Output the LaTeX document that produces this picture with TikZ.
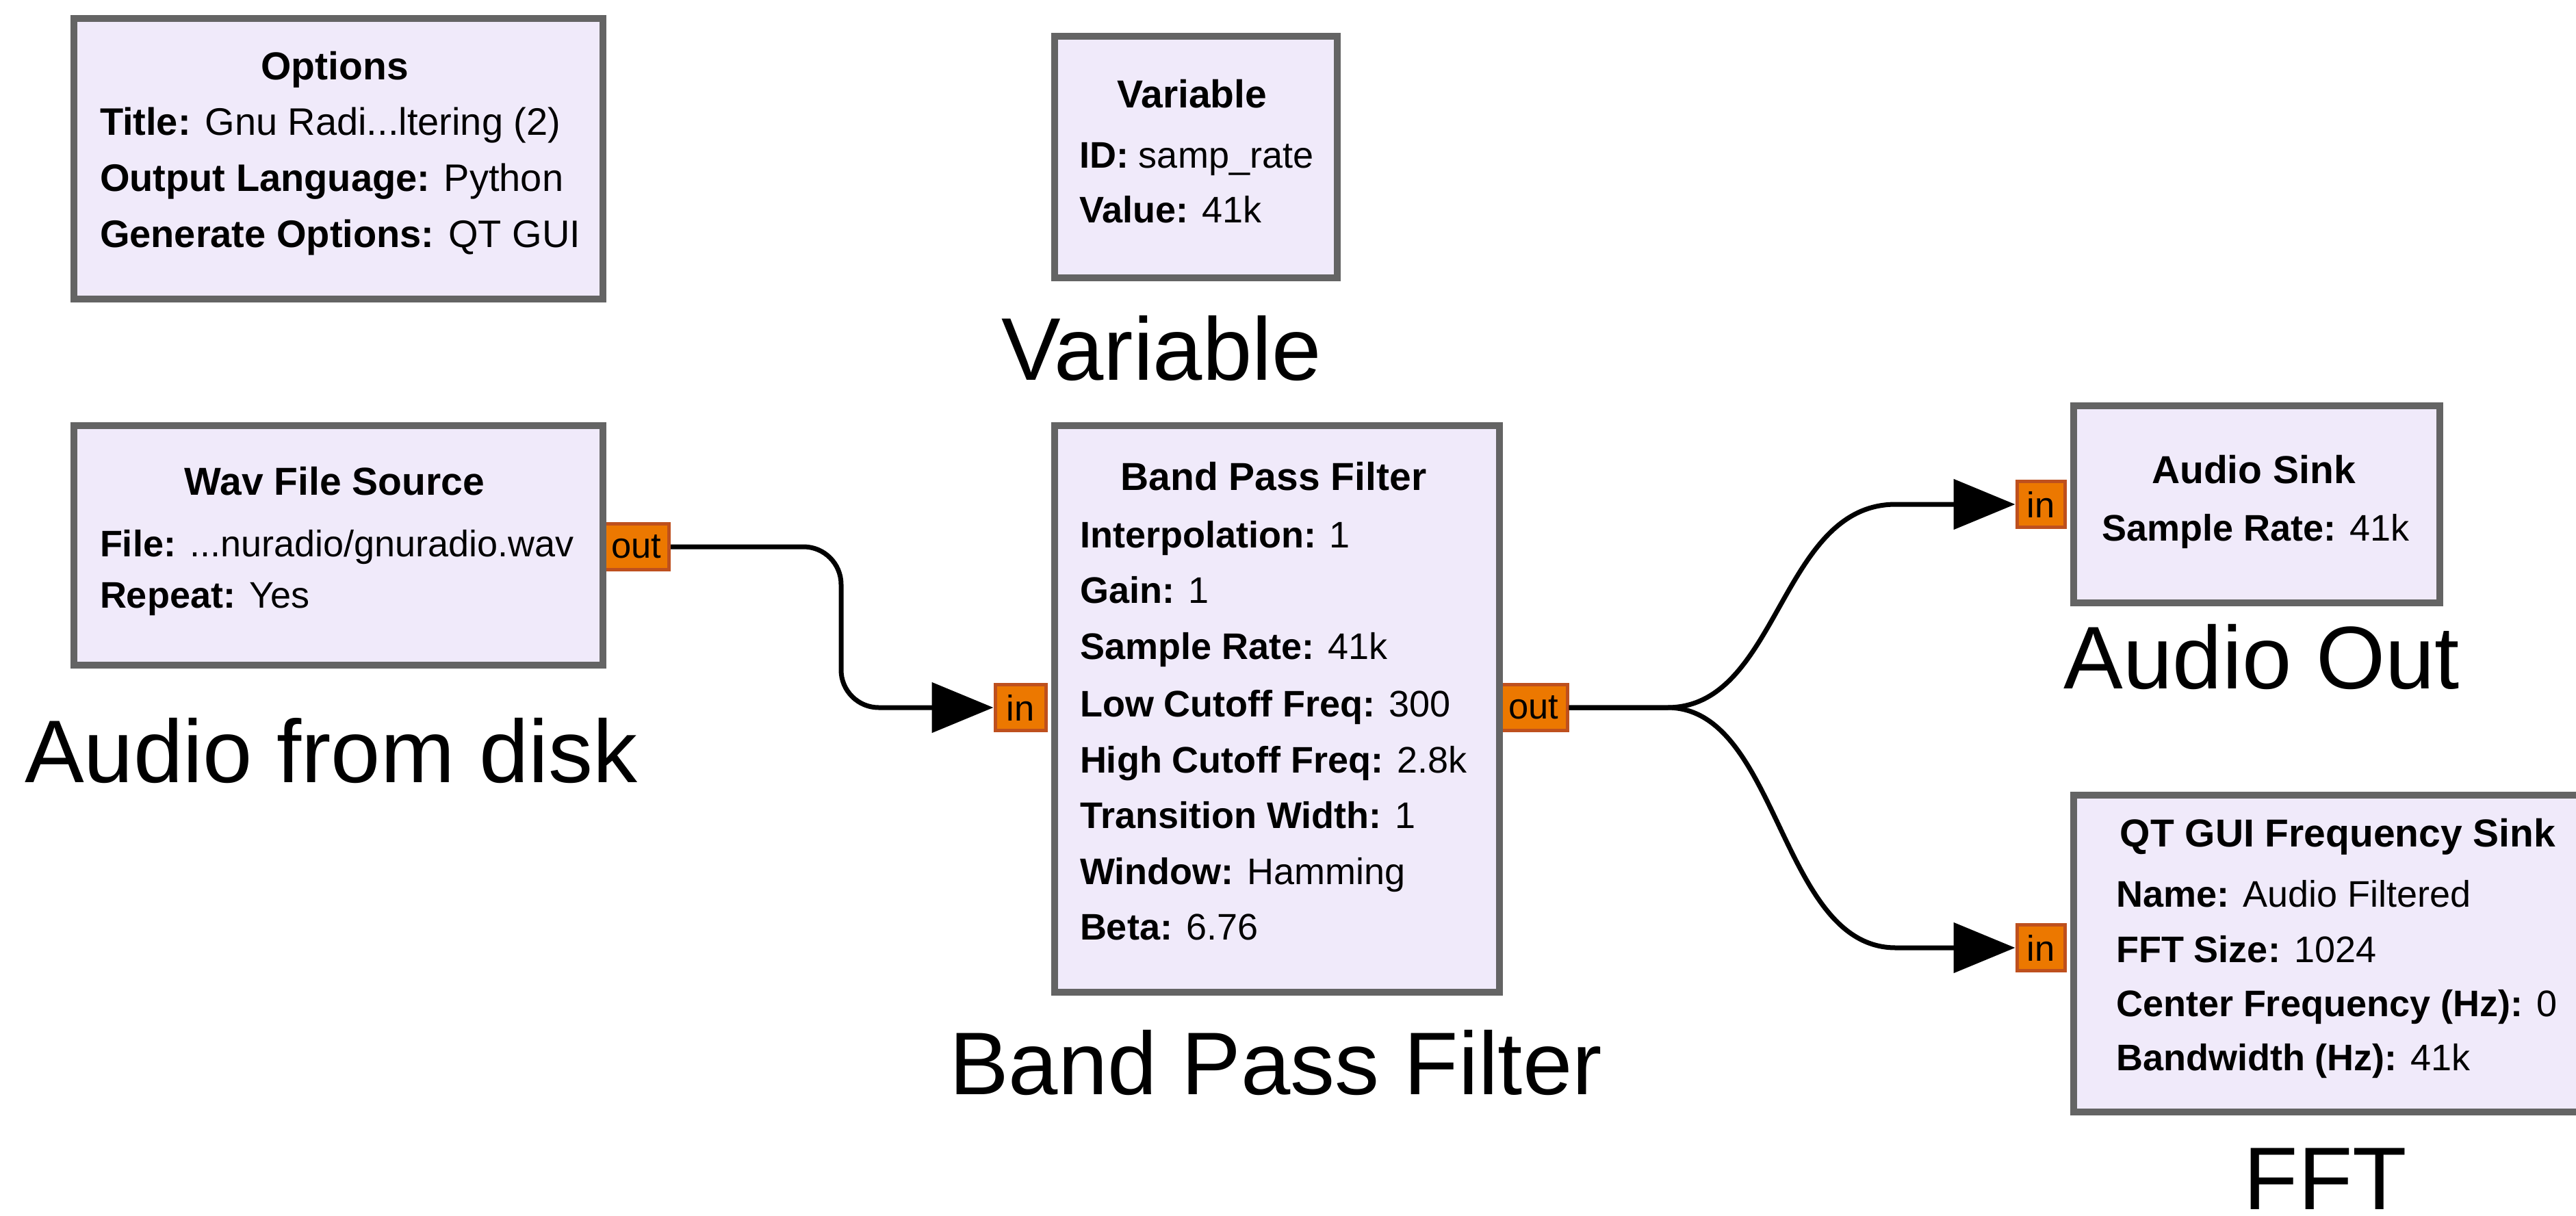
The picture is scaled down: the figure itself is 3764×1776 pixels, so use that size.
\documentclass[tikz,border=0pt]{standalone}
\usepackage{fontspec}
\setmainfont{Liberation Sans}
\usetikzlibrary{arrows.meta}
\definecolor{blockfill}{RGB}{240,234,250}
\definecolor{blockedge}{RGB}{100,100,100}
\definecolor{portfill}{RGB}{236,120,0}
\definecolor{portedge}{RGB}{190,80,30}
\begin{document}
\begin{tikzpicture}[x=0.2pt,y=-0.2pt,
 block/.style={draw=blockedge, fill=blockfill, line width=2pt, anchor=north west, inner sep=0pt},
 port/.style={draw=portedge, fill=portfill, line width=1pt, inner sep=0pt, minimum height=13.4pt, font=\fontsize{10.5}{12}\selectfont},
 ttl/.style={font=\fontsize{11.4}{13}\selectfont\bfseries, text height=8pt, text depth=2.5pt, inner sep=0pt},
 prm/.style={anchor=west, font=\fontsize{10.8}{13}\selectfont, text height=8pt, text depth=2.5pt, inner sep=0pt},
 optprm/.style={prm, font=\fontsize{11.2}{13}\selectfont},
 big/.style={font=\fontsize{26}{30}\selectfont, inner sep=0pt},
 conn/.style={line width=1.4pt, -{Triangle[length=18pt,width=14.5pt]}}]
\useasboundingbox[fill=white] (0,0) rectangle (3764,1776);

% ports
\node[port, minimum width=19pt] (wavout) at (930,799) {out};
\node[port, minimum width=14.8pt] (bpfin) at (1491,1034) {in};
\node[port, minimum width=19.6pt] (bpfout) at (2241,1034) {out};
\node[port, minimum width=14pt] (asin) at (2982,737) {in};
\node[port, minimum width=14pt] (fftin) at (2982,1385) {in};

% blocks
\node[block, minimum width=154.6pt, minimum height=82pt] (opt) at (103,22) {};
\node[block, minimum width=82.6pt, minimum height=70.6pt] (var) at (1536,48) {};
\node[block, minimum width=154.6pt, minimum height=70pt] (wav) at (103,617) {};
\node[block, minimum width=130pt, minimum height=165.6pt] (bpf) at (1536,617) {};
\node[block, minimum width=107pt, minimum height=57.6pt] (asink) at (3025,588) {};
\node[block, minimum width=156.4pt, minimum height=92.6pt] (fft) at (3025,1157) {};

% Options
\node[ttl] (optt) at (489,103) {Options};
\node[optprm] (opt1) at (145,184) {\textbf{Title:} Gnu Radi...ltering (2)};
\node[optprm] (opt2) at (145,266) {\textbf{Output Language:} Python};
\node[optprm] (opt3) at (145,348) {\textbf{Generate Options:} QT GUI};

% Variable
\node[ttl] (vart) at (1742,144) {Variable};
\node[prm] (var1) at (1576,232) {\textbf{ID:} samp\_rate};
\node[prm] (var2) at (1576,312) {\textbf{Value:} 41k};
\node[big] (varlbl) at (1697,509) {Variable};

% Wav File Source
\node[ttl] (wavt) at (489,710) {Wav File Source};
\node[prm] (wav1) at (145,800) {\textbf{File:} ...nuradio/gnuradio.wav};
\node[prm] (wav2) at (145,875) {\textbf{Repeat:} Yes};
\node[big] (wavlbl) at (484,1097) {Audio from disk};

% Band Pass Filter
\node[ttl] (bpft) at (1861,703) {Band Pass Filter};
\node[prm] (bpf1) at (1577,787) {\textbf{Interpolation:} 1};
\node[prm] (bpf2) at (1577,868) {\textbf{Gain:} 1};
\node[prm] (bpf3) at (1577,950) {\textbf{Sample Rate:} 41k};
\node[prm] (bpf4) at (1577,1034) {\textbf{Low Cutoff Freq:} 300};
\node[prm] (bpf5) at (1577,1116) {\textbf{High Cutoff Freq:} 2.8k};
\node[prm] (bpf6) at (1577,1197) {\textbf{Transition Width:} 1};
\node[prm] (bpf7) at (1577,1279) {\textbf{Window:} Hamming};
\node[prm] (bpf8) at (1577,1360) {\textbf{Beta:} 6.76};
\node[big] (bpflbl) at (1864,1553) {Band Pass Filter};

% Audio Sink
\node[ttl] (asinkt) at (3293,693) {Audio Sink};
\node[prm] (asink1) at (3070,777) {\textbf{Sample Rate:} 41k};
\node[big] (asinklbl) at (3305,960) {Audio Out};

% QT GUI Frequency Sink
\node[ttl] (fftt) at (3416,1224) {QT GUI Frequency Sink};
\node[prm] (fft1) at (3091,1312) {\textbf{Name:} Audio Filtered};
\node[prm] (fft2) at (3091,1393) {\textbf{FFT Size:} 1024};
\node[prm] (fft3) at (3091,1472) {\textbf{Center Frequency (Hz):} 0};
\node[prm] (fft4) at (3091,1551) {\textbf{Bandwidth (Hz):} 41k};
\node[big] (fftlbl) at (3398,1723) {FFT};

% connectors
\coordinate (j1) at (1229,799);
\coordinate (j2) at (1229,1034);
\draw[conn, rounded corners=11pt] (wavout.east) -- (j1) -- (j2) -- (bpfin.west);
\coordinate (s0) at (2436,1034);
\draw[conn] (bpfout.east) -- (s0) .. controls (2600,1034) and (2600,737) .. (2770,737) -- (asin.west);
\draw[conn] (bpfout.east) -- (s0) .. controls (2600,1034) and (2600,1385) .. (2770,1385) -- (fftin.west);
\end{tikzpicture}
\end{document}
